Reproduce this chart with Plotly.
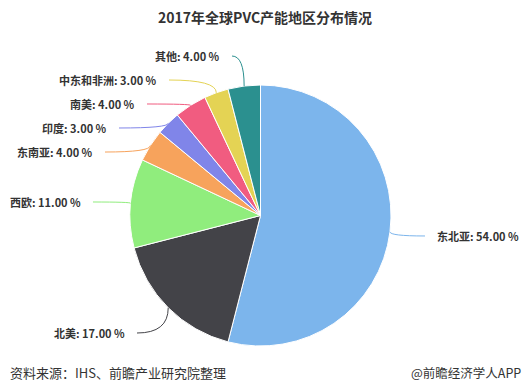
import math
import plotly.graph_objects as go

# ---- data ----
categories = ["东北亚", "北美", "西欧", "东南亚", "印度", "南美", "中东和非洲", "其他"]
values = [54, 17, 11, 4, 3, 4, 3, 4]
colors = ["#7cb5ec", "#434348", "#90ed7d", "#f7a35c", "#8085e9", "#f15c80", "#e4d354", "#2b908f"]

title_text = "2017年全球PVC产能地区分布情况"
source_text = "资料来源：IHS、前瞻产业研究院整理"
brand_text = "@前瞻经济学人APP"

# ---- layout (pixels) ----
W, H = 529, 392
CX, CY, R = 260.5, 215.5, 130.5
# label anchor (text edge x, centre y), side: -1 label left of pie, +1 right
label_pos = [(435, 236, 1), (127, 333, -1), (83, 202, -1), (95, 152, -1),
             (109, 128, -1), (137, 104, -1), (159, 80, -1), (222, 56, -1)]

def px(x):
    return x / W

def py(y):
    return 1 - y / H

fig = go.Figure(go.Pie(
    labels=categories, values=values, sort=False, direction="clockwise", rotation=0,
    marker=dict(colors=colors, line=dict(color="white", width=1)),
    textinfo="none", hoverinfo="label+percent", showlegend=False,
    domain=dict(x=[px(CX - R), px(CX + R)], y=[py(CY + R), py(CY - R)]),
))

total = sum(values)
cum = 0
shapes = []
annotations = []
for cat, v, col, (lx, ly, side) in zip(categories, values, colors, label_pos):
    mid = (cum + v / 2) / total * 2 * math.pi
    cum += v
    ex = CX + R * math.sin(mid)
    ey = CY - R * math.cos(mid)
    sx = lx - 10 if side == 1 else lx + 10
    path = "M {:.4f},{:.4f} Q {:.4f},{:.4f} {:.4f},{:.4f}".format(
        px(sx), py(ly), px(ex), py(ly), px(ex), py(ey))
    shapes.append(dict(type="path", path=path, xref="paper", yref="paper",
                       line=dict(color=col, width=1)))
    annotations.append(dict(
        text="<b>{}: {:.2f} %</b>".format(cat, v / total * 100),
        x=px(lx), y=py(ly), xref="paper", yref="paper",
        xanchor="left" if side == 1 else "right", yanchor="middle",
        showarrow=False, font=dict(size=11, color="#333333",
                                   family="Noto Sans CJK SC, sans-serif")))

annotations.append(dict(text="<b>" + title_text + "</b>", x=px(265), y=py(17),
                        xref="paper", yref="paper", xanchor="center", yanchor="middle",
                        showarrow=False,
                        font=dict(size=14, color="#333333", family="Noto Sans CJK SC, sans-serif")))
annotations.append(dict(text=source_text, x=px(8), y=py(372), xref="paper", yref="paper",
                        xanchor="left", yanchor="middle", showarrow=False,
                        font=dict(size=13, color="#333333", family="Noto Sans CJK SC, sans-serif")))
annotations.append(dict(text=brand_text, x=px(523), y=py(372), xref="paper", yref="paper",
                        xanchor="right", yanchor="middle", showarrow=False,
                        font=dict(size=12.5, color="#333333", family="Noto Sans CJK SC, sans-serif")))

fig.update_layout(
    width=W, height=H, margin=dict(l=0, r=0, t=0, b=0),
    paper_bgcolor="white", plot_bgcolor="white",
    shapes=shapes, annotations=annotations,
)
fig.write_html("out.html", config={"displayModeBar": False},
               post_script="document.body.style.margin='0';document.body.style.overflow='hidden';")
